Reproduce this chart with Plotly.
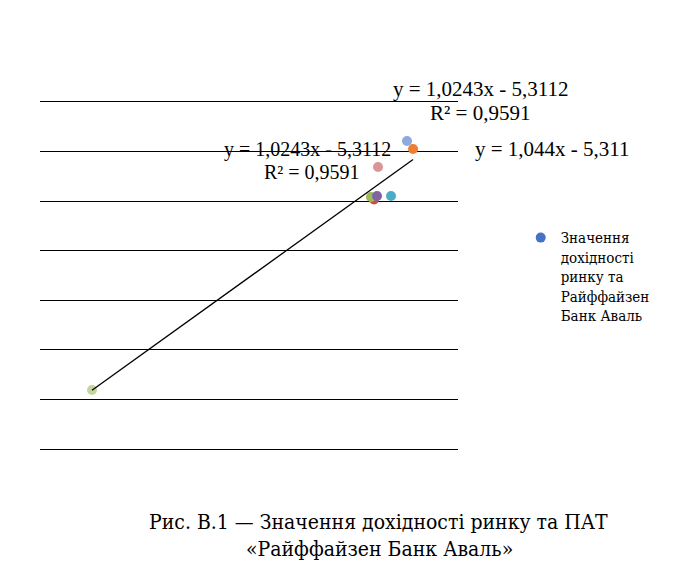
import plotly.graph_objects as go

# Data
x_vals = [3.97, 4.40, 1.92, 1.64, 1.42, 1.85, 2.84, -18.32]
y_vals = [1.07, 0.26, -1.56, -4.83, -4.58, -4.48, -4.48, -24.05]
point_colors = ["#8EA9DB", "#ED7D31", "#D99694", "#C0504D", "#9BBB59", "#8064A2", "#4BACC6", "#C3D69B"]
slope = 1.0243
intercept = -5.3112
legend_name = "Значення<br>дохідності<br>ринку та<br>Райффайзен<br>Банк Аваль"

FONT = "Liberation Serif"
CYR = "DejaVu Serif Condensed"

fig = go.Figure()
for xv, yv, c in zip(x_vals, y_vals, point_colors):
    fig.add_trace(go.Scatter(x=[xv], y=[yv], mode="markers",
                             marker=dict(size=10, color=c), showlegend=False))

x0, x1 = min(x_vals), max(x_vals)
fig.add_trace(go.Scatter(x=[x0, x1], y=[slope * x0 + intercept, slope * x1 + intercept],
                         mode="lines", line=dict(color="black", width=1.3), showlegend=False))

fig.add_trace(go.Scatter(x=[None], y=[None], mode="markers", name=legend_name,
                         marker=dict(size=10, color="#4472C4")))

def ann(text, x, y, size, fam=FONT):
    fig.add_annotation(text=text, x=x, y=y, xref="paper", yref="paper",
                       showarrow=False, font=dict(family=fam, size=size, color="black"),
                       xanchor="center", yanchor="middle")

ann("y = 1,0243x - 5,3112", 1.055, 1.0375, 21)
ann("R² = 0,9591", 1.053, 0.968, 21)
ann("y = 1,0243x - 5,3112", 0.641, 0.862, 20)
ann("R² = 0,9591", 0.651, 0.798, 20)
ann("y = 1,044x - 5,311", 1.225, 0.865, 21)
ann("Рис. В.1 — Значення дохідності ринку та ПАТ", 0.809, -0.21, 21, CYR)
ann("«Райффайзен Банк Аваль»", 0.813, -0.288, 21, CYR)

fig.update_layout(
    width=691, height=577,
    margin=dict(l=32, r=241, t=94, b=136),
    paper_bgcolor="white", plot_bgcolor="white",
    font=dict(family=FONT, color="black"),
    xaxis=dict(range=[-22, 7.58], showgrid=False, zeroline=False, showticklabels=False,
               showline=True, mirror=True, linecolor="black", linewidth=1, ticks=""),
    yaxis=dict(range=[-30, 5], dtick=5, tick0=0, showgrid=True, gridcolor="black", gridwidth=1,
               zeroline=False, showticklabels=False, showline=False, ticks=""),
    legend=dict(x=1.15, y=0.656, xanchor="left", yanchor="top", valign="top",
                font=dict(family=CYR, size=15, color="black"), bgcolor="rgba(0,0,0,0)"),
    showlegend=True,
)

fig.write_html("out.html")
